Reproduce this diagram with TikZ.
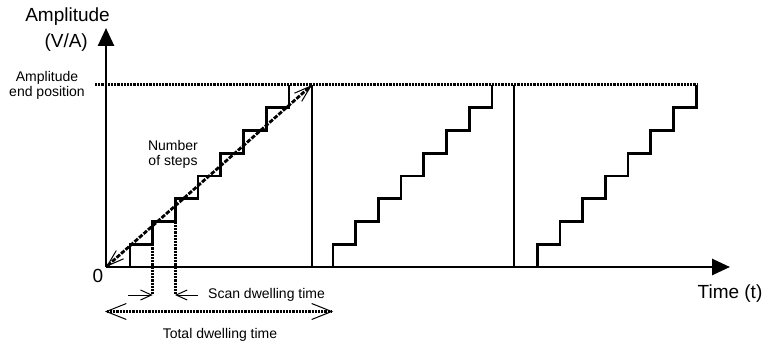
\documentclass[tikz,border=0pt]{standalone}
\usepackage{fontspec}
\setmainfont{Liberation Sans}
\usetikzlibrary{arrows.meta}
\begin{document}
\begin{tikzpicture}[x=1pt,y=-1pt,
  solidline/.style={line width=2.7pt},
  dotline/.style={line width=3pt, dash pattern=on 2.2pt off 1pt},
  diagline/.style={line width=2.8pt, dash pattern=on 4.5pt off 1.5pt},
  axisline/.style={line width=2.7pt, -{Triangle[length=18pt,width=16pt]}},
  bigtext/.style={font=\fontsize{19}{21}\selectfont, inner sep=0pt, anchor=base},
  smalltext/.style={font=\fontsize{14}{16}\selectfont, inner sep=0pt, anchor=base},
  barb/.style={line width=1pt, -{Straight Barb[length=11pt,width=10pt,line width=1pt]}},
  diagtips/.style={{Straight Barb[length=17pt,width=11pt,line width=1pt]}-{Straight Barb[length=17pt,width=11pt,line width=1pt]}},
  totaltips/.style={{Straight Barb[length=20pt,width=16pt,line width=1pt]}-{Straight Barb[length=20pt,width=16pt,line width=1pt]}}
]
\useasboundingbox (0,0) rectangle (766,342);

% named points
\coordinate (O) at (106,267);
\coordinate (ytip) at (106,28);
\coordinate (xtip) at (730,267);
\coordinate (topL) at (95,85);
\coordinate (topR) at (697,85);
\coordinate (v1t) at (312,85);
\coordinate (v1b) at (312,267);
\coordinate (v2t) at (514,85);
\coordinate (v2b) at (514,267);
\coordinate (d1t) at (152.7,221.7);
\coordinate (d1b) at (152.7,295);
\coordinate (d2t) at (175,221.7);
\coordinate (d2b) at (175,295);
\coordinate (s1) at (128,295);
\coordinate (s2) at (198,295);
\coordinate (t1) at (105,311.5);
\coordinate (t2) at (333,311.5);

% top dotted line
\draw[dotline] (topL) -- (topR);

% staircases
\foreach \s in {130,333,537.3}{
  \draw[solidline] (\s,267) \foreach \k in {0,...,6}{ -- ++(0,-22.75) -- ++(22.7,0) } -- ++(0,-22.75);
}
% vertical period lines
\draw[solidline] (v1t) -- (v1b);
\draw[solidline] (v2t) -- (v2b);

% axes
\draw[axisline] (O) -- (ytip);
\draw[axisline] (O) -- (xtip);

% diagonal
\draw[diagline, diagtips] (O) -- (v1t);

% dotted verticals
\draw[dotline] (d1t) -- (d1b);
\draw[dotline] (d2t) -- (d2b);

% scan dwelling arrows
\draw[barb] (s1) -- (d1b);
\draw[barb] (s2) -- (d2b);

% total dwelling
\draw[dotline, totaltips] (t1) -- (t2);

% texts
\node[bigtext, anchor=base east] (ylabA) at (110,22) {Amplitude};
\node[bigtext, anchor=base east] (ylabB) at (88,48) {(V/A)};
\node[smalltext] (ae1) at (47,82) {Amplitude};
\node[smalltext] (ae2) at (47,97) {end position};
\node[smalltext] (ns1) at (173,150) {Number};
\node[smalltext] (ns2) at (173,166) {of steps};
\node[bigtext] (zero) at (98,282) {0};
\node[smalltext, anchor=base west] (scan) at (208,298) {Scan dwelling time};
\node[smalltext] (total) at (220,338) {Total dwelling time};
\node[bigtext] (time) at (730,298) {Time (t)};
\end{tikzpicture}
\end{document}
